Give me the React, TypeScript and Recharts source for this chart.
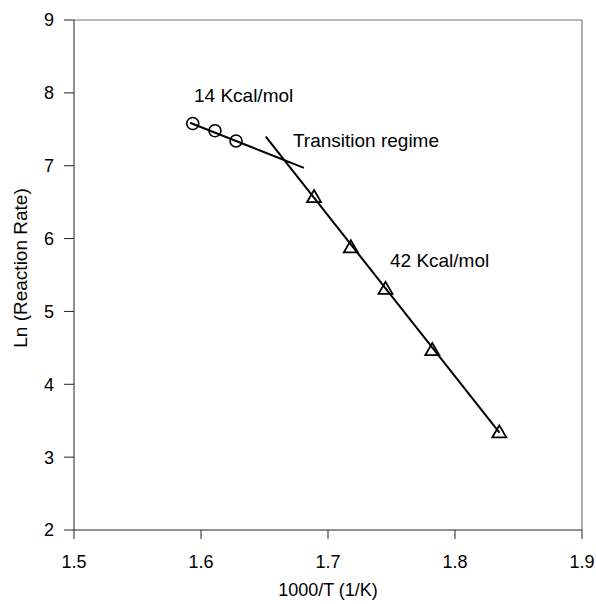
import React from "react";
import {
  ScatterChart,
  Scatter,
  XAxis,
  YAxis,
  ReferenceLine,
  ReferenceDot,
} from "recharts";

// low-temperature regime (circles)
const lowT = [
  { x: 1.5935, y: 7.58 },
  { x: 1.611, y: 7.48 },
  { x: 1.6276, y: 7.34 },
];

// high-temperature regime (triangles)
const highT = [
  { x: 1.689, y: 6.57 },
  { x: 1.718, y: 5.88 },
  { x: 1.7453, y: 5.31 },
  { x: 1.7821, y: 4.47 },
  { x: 1.8349, y: 3.34 },
];

// fitted lines
const fit14 = [
  { x: 1.5913, y: 7.59 },
  { x: 1.681, y: 6.97 },
];
const fit42 = [
  { x: 1.651, y: 7.4 },
  { x: 1.835, y: 3.335 },
];

const xTicks = [1.5, 1.6, 1.7, 1.8, 1.9];
const yTicks = [2, 3, 4, 5, 6, 7, 8, 9];

const notes = [
  { x: 1.5945, y: 7.97, text: "14 Kcal/mol" },
  { x: 1.6724, y: 7.353, text: "Transition regime" },
  { x: 1.7488, y: 5.706, text: "42 Kcal/mol" },
];

const font = "'Liberation Sans', Arial, sans-serif";

const Circle = (props: any) => (
  <circle cx={props.cx} cy={props.cy} r={6} fill="none" stroke="#000" strokeWidth={1.6} />
);

const Triangle = (props: any) => {
  const { cx, cy } = props;
  const pts = `${cx},${cy - 7} ${cx + 7},${cy + 5} ${cx - 7},${cy + 5}`;
  return <polygon points={pts} fill="none" stroke="#000" strokeWidth={1.8} />;
};

const Nothing = () => <g />;

export default function App() {
  return (
    <div style={{ position: "absolute", left: 0, top: 0, background: "#fff" }}>
      <ScatterChart
        width={596}
        height={604}
        margin={{ top: 20, right: 14, left: 0, bottom: 0 }}
        style={{ fontFamily: font }}
      >
        <XAxis
          type="number"
          dataKey="x"
          domain={[1.5, 1.9]}
          ticks={xTicks}
          tickFormatter={(v: number) => v.toFixed(1)}
          height={74}
          tickSize={9}
          tickMargin={16}
          stroke="#222"
          tick={{ fill: "#000", fontSize: 18 }}
          allowDataOverflow
          label={{
            value: "1000/T (1/K)",
            position: "insideBottom",
            offset: 8,
            fill: "#000",
            fontSize: 18,
          }}
        />
        <YAxis
          type="number"
          dataKey="y"
          domain={[2, 9]}
          ticks={yTicks}
          width={74}
          tickSize={10}
          tickMargin={10}
          stroke="#222"
          tick={{ fill: "#000", fontSize: 18 }}
          allowDataOverflow
          label={{
            value: "Ln (Reaction Rate)",
            angle: -90,
            position: "insideLeft",
            offset: 20,
            dy: -7,
            fill: "#000",
            fontSize: 19,
            style: { textAnchor: "middle" },
          }}
        />
        <ReferenceLine y={9} stroke="#777" strokeWidth={1.2} />
        <ReferenceLine x={1.9} stroke="#777" strokeWidth={1.2} />
        <Scatter
          data={fit14}
          line={{ stroke: "#000", strokeWidth: 2 }}
          shape={Nothing}
          isAnimationActive={false}
        />
        <Scatter
          data={fit42}
          line={{ stroke: "#000", strokeWidth: 2 }}
          shape={Nothing}
          isAnimationActive={false}
        />
        <Scatter data={lowT} shape={Circle} isAnimationActive={false} />
        <Scatter data={highT} shape={Triangle} isAnimationActive={false} />
        {notes.map((n) => (
          <ReferenceDot
            key={n.text}
            x={n.x}
            y={n.y}
            r={0}
            shape={(p: any) => (
              <text
                x={p.cx}
                y={p.cy}
                dy="0.355em"
                fill="#000"
                fontSize={19}
                fontFamily={font}
              >
                {n.text}
              </text>
            )}
          />
        ))}
      </ScatterChart>
    </div>
  );
}
